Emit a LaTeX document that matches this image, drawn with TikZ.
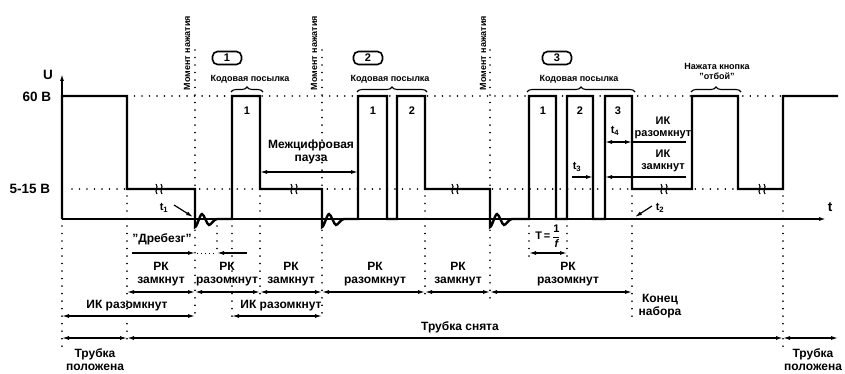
\documentclass[tikz,border=0pt]{standalone}
\usepackage{fontspec}
\setmainfont{Liberation Sans}
\usetikzlibrary{arrows.meta,decorations.pathreplacing}
\begin{document}
\begin{tikzpicture}[x=1pt,y=-1pt,
  >={Latex[length=7pt,width=4pt]},
  wave/.style={line width=2.4pt, line join=miter},
  axisline/.style={line width=1.5pt},
  dotline/.style={line width=1.7pt, dash pattern=on 0.01pt off 7.5pt, line cap=round},
  dimline/.style={line width=1.2pt},
  lbl/.style={font=\fontsize{12}{13}\selectfont\bfseries, inner sep=0pt},
  mid/.style={font=\fontsize{11}{12}\selectfont\bfseries, inner sep=0pt},
  small/.style={font=\fontsize{9}{10}\selectfont\bfseries, inner sep=0pt},
  big/.style={font=\fontsize{13.5}{15}\selectfont\bfseries, inner sep=0pt},
  brc/.style={decorate, decoration={brace, amplitude=5pt}, line width=1.1pt},
  numbox/.style={draw, line width=1.6pt, rounded corners=5pt, minimum width=29pt, minimum height=13pt, inner sep=0pt, font=\fontsize{11}{12}\selectfont\bfseries},
  brk/.pic={\draw[line width=1.1pt] (-4,-5) .. controls (-1,-2) and (-6,2) .. (-3,5);
            \draw[line width=1.1pt] (1,-5) .. controls (4,-2) and (-1,2) .. (2,5);}
]
\useasboundingbox (0,0) rectangle (845,374);

% ---- dotted guide lines
\draw[dotline] (127,96) -- (783,96);
\draw[dotline] (72,189) -- (783,189);
\draw[dotline] (62,226) -- (62,347);
\draw[dotline] (127,196) -- (127,345);
\draw[dotline] (195,50) -- (195,320);
\draw[dotline] (217,226) -- (217,256);
\draw[dotline] (232,226) -- (232,322);
\draw[dotline] (260,196) -- (260,294);
\draw[dotline] (322,50) -- (322,318);
\draw[dotline] (425,196) -- (425,300);
\draw[dotline] (490,50) -- (490,300);
\draw[dotline] (529,226) -- (529,258);
\draw[dotline] (567,226) -- (567,258);
\draw[dotline] (632,196) -- (632,320);
\draw[dotline] (783,196) -- (783,347);
\draw[line width=1pt, dash pattern=on 1pt off 3pt] (197,253) -- (216,253);

% ---- axes
\coordinate (orig) at (62,219);
\coordinate (tend) at (826,219);
\coordinate (uend) at (62,74);
\draw[axisline,->] (orig) -- (tend);
\draw[axisline,->] (62,100) -- (uend);
\node[big] (ulab) at (48,75) {U};
\node[big] (tlab) at (830,207) {t};
\node[big] (v60) at (37,97) {60 В};
\node[big] (v515) at (30,189) {5-15 В};

% ---- waveform
\draw[wave] (62,219) -- (62,96) -- (127,96) -- (127,189) -- (195,189) -- (195,227)
  .. controls +(2,0) and +(-2,0) .. ++(7,-13) .. controls +(2,0) and +(-2,0) .. ++(7,11)
  .. controls +(2,0) and +(-3,0) .. ++(8,-6)
  -- (232,219) -- (232,96) -- (260,96) -- (260,189) -- (322,189) -- (322,227)
  .. controls +(2,0) and +(-2,0) .. ++(7,-13) .. controls +(2,0) and +(-2,0) .. ++(7,11)
  .. controls +(2,0) and +(-3,0) .. ++(8,-6)
  -- (358,219) -- (358,96) -- (387,96) -- (387,219) -- (397,219) -- (397,96) -- (425,96)
  -- (425,189) -- (490,189) -- (490,227)
  .. controls +(2,0) and +(-2,0) .. ++(7,-13) .. controls +(2,0) and +(-2,0) .. ++(7,11)
  .. controls +(2,0) and +(-3,0) .. ++(8,-6)
  -- (529,219) -- (529,96) -- (556,96) -- (556,219) -- (567,219) -- (567,96) -- (593,96)
  -- (593,219) -- (605,219) -- (605,96) -- (632,96) -- (632,189) -- (692,189) -- (692,96)
  -- (738,96) -- (738,189) -- (783,189) -- (783,96) -- (838,96);

\pic at (160,189) {brk};
\pic at (295,189) {brk};
\pic at (456,189) {brk};
\pic at (665,189) {brk};
\pic at (763,189) {brk};

% ---- pulse numbers
\node[mid] (p11) at (247,111) {1};
\node[mid] (p21) at (373,111) {1};
\node[mid] (p22) at (412,111) {2};
\node[mid] (p31) at (543,111) {1};
\node[mid] (p32) at (580,111) {2};
\node[mid] (p33) at (618,111) {3};

% ---- top annotations
\node[small, rotate=90] (m1) at (187,53) {Момент нажатия};
\node[small, rotate=90] (m2) at (314,53) {Момент нажатия};
\node[small, rotate=90] (m3) at (483,53) {Момент нажатия};

\node[numbox] (b1) at (227,58) {1};
\node[numbox] (b2) at (368,58) {2};
\node[numbox] (b3) at (557,58) {3};

\node[small] (k1) at (250,79) {Кодовая посылка};
\node[small] (k2) at (390,79) {Кодовая посылка};
\node[small] (k3) at (579,79) {Кодовая посылка};
\node[small, align=center] (otb) at (717,71) {Нажата кнопка\\"отбой"};

\draw[brc] (231,92) -- (263,92);
\draw[brc] (357,92) -- (427,92);
\draw[brc] (527,92) -- (635,92);
\draw[brc] (691,92) -- (741,92);

% ---- inter-digit pause
\node[lbl, align=center] (pause) at (311,152) {Межцифровая\\пауза};
\coordinate (pa) at (260,172);
\coordinate (pb) at (358,172);
\draw[dimline,<->] (pa) -- (pb);

% ---- t4 / t3
\node[mid] (t4) at (615,131) {t\textsubscript{4}};
\coordinate (t4a) at (605,142);
\coordinate (t4b) at (632,142);
\coordinate (t4c) at (686,142);
\draw[dimline,<->] (t4a) -- (t4b);
\draw[dimline] (t4b) -- (t4c);
\node[mid, align=center] (ikr) at (663,128) {ИК\\разомкнут};

\node[mid] (t3) at (577,167) {t\textsubscript{3}};
\coordinate (t3a) at (572,177);
\coordinate (t3b) at (593,177);
\coordinate (t3c) at (605,177);
\coordinate (t3d) at (686,177);
\draw[dimline,->] (t3a) -- (t3b);
\draw[dimline,->] (t3d) -- (t3c);
\node[mid, align=center] (ikz) at (663,161) {ИК\\замкнут};

% ---- t1 / t2
\node[mid] (t1) at (164,208) {t\textsubscript{1}};
\draw[dimline,->] (174,205) -- (193,217);
\node[mid] (t2) at (660,208) {t\textsubscript{2}};
\draw[dimline,->] (652,206) -- (635,217);

% ---- Дребезг
\node[lbl] (dreb) at (162,239) {"Дребезг"};
\draw[dimline,->] (132,253) -- (195,253);
\draw[dimline,->] (247,253) -- (217,253);

% ---- T = 1/f
\node[mid] (per) at (548,236) {T\,=\,$\displaystyle\frac{\mbox{1}}{\mbox{\itshape f}}$};
\draw[dimline,<->] (529,253) -- (567,253);

% ---- РК row
\foreach \a/\b/\c/\t [count=\i] in {127/195/161/замкнут, 195/260/227/разомкнут, 260/322/291/замкнут,
   322/425/375/разомкнут, 425/490/458/замкнут, 490/632/568/разомкнут}{
  \node[lbl, align=center] (rk\i) at (\c,274) {РК\\\t};
  \draw[dimline,<->] (\a,292) -- (\b,292);
}

\node[lbl, align=center] (kn) at (660,306) {Конец\\набора};

% ---- ИК row
\node[lbl] (ik1) at (127,306) {ИК разомкнут};
\draw[dimline,<->] (62,316) -- (195,316);
\node[lbl] (ik2) at (281,306) {ИК разомкнут};
\draw[dimline,<->] (232,316) -- (322,316);

% ---- Трубка row
\node[lbl, align=center] (tp1) at (95,360) {Трубка\\положена};
\draw[dimline,<->] (62,338) -- (127,338);
\node[lbl] (ts) at (460,327) {Трубка снята};
\draw[line width=2pt,<->] (127,338) -- (783,338);
\node[lbl, align=center] (tp2) at (813,360) {Трубка\\положена};
\draw[dimline,<->] (783,338) -- (838,338);
\end{tikzpicture}
\end{document}
